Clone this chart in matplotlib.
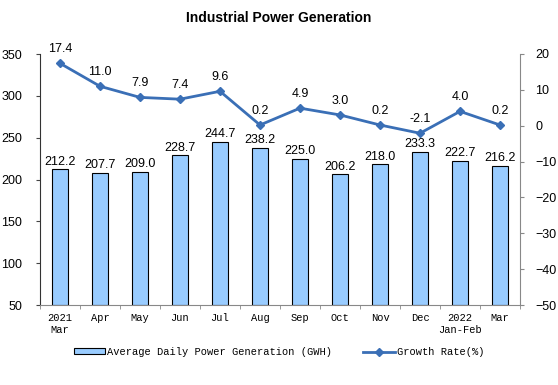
import matplotlib
matplotlib.use("Agg")
import matplotlib.pyplot as plt
import numpy as np

categories = ["2021\nMar", "Apr", "May", "Jun", "Jul", "Aug", "Sep", "Oct", "Nov", "Dec", "2022\nJan-Feb", "Mar"]
power = [212.2, 207.7, 209.0, 228.7, 244.7, 238.2, 225.0, 206.2, 218.0, 233.3, 222.7, 216.2]
growth = [17.4, 11.0, 7.9, 7.4, 9.6, 0.2, 4.9, 3.0, 0.2, -2.1, 4.0, 0.2]
left_ticks = [50, 100, 150, 200, 250, 300, 350]
right_ticks = [-50, -40, -30, -20, -10, 0, 10, 20]

fig = plt.figure(figsize=(5.58, 3.85), dpi=100)
ax = fig.add_axes([40/558, 1-305/385, 480/558, 251/385])
ax2 = ax.twinx()

x = np.arange(len(categories))
ax.bar(x, [p - 50 for p in power], bottom=50, width=0.4, color="#99CCFF", edgecolor="black", linewidth=0.8,
       label="Average Daily Power Generation (GWH)", zorder=2)
for xi, p in zip(x, power):
    ax.text(xi, p + 2, f"{p:.1f}", ha="center", va="bottom", fontsize=9, family="Liberation Sans")

ax2.plot(x, growth, color="#3A6FB6", marker="D", markersize=4, linewidth=2, label="Growth Rate(%)", zorder=3)
for xi, g in zip(x, growth):
    ax2.text(xi, g + 2.2, f"{g:.1f}", ha="center", va="bottom", fontsize=9, family="Liberation Sans")

ax.set_xlim(-0.5, len(categories) - 0.5)
ax.set_ylim(50, 350)
ax2.set_ylim(-50, 20)
ax.set_yticks(left_ticks)
ax2.set_yticks(right_ticks)
ax.set_xticks(x)
ax.set_xticklabels(categories, family="Liberation Mono", fontsize=7.5)
ax.tick_params(axis="x", length=0, pad=6)
ax.set_xticks(np.arange(len(categories) + 1) - 0.5, minor=True)
ax.tick_params(axis="x", which="minor", length=3, color="#888888", direction="out")
for lbl in ax.get_yticklabels() + ax2.get_yticklabels():
    lbl.set_family("Liberation Sans")
    lbl.set_fontsize(9)
ax.tick_params(axis="y", length=3, color="#444444", pad=10)
ax2.tick_params(axis="y", length=3, color="#888888", pad=8)

for a in (ax, ax2):
    a.spines["top"].set_visible(False)
ax.spines["left"].set_color("#333333")
ax.spines["bottom"].set_color("#888888")
ax2.spines["right"].set_color("#888888")
ax2.spines["left"].set_visible(False)
ax2.spines["bottom"].set_visible(False)
ax.spines["right"].set_visible(False)

fig.text(0.5, 1 - 18/385, "Industrial Power Generation", ha="center", va="center",
         fontsize=10, fontweight="bold", family="Liberation Sans")

h1, l1 = ax.get_legend_handles_labels()
h2, l2 = ax2.get_legend_handles_labels()
fig.legend(h1 + h2, l1 + l2, loc="center", bbox_to_anchor=(0.5, 1 - 352/385), ncol=2, frameon=False,
           prop={"family": "Liberation Mono", "size": 7.5}, handlelength=3, handleheight=0.5,
           columnspacing=3, handletextpad=0.2)

fig.savefig("out.png", dpi=100)
